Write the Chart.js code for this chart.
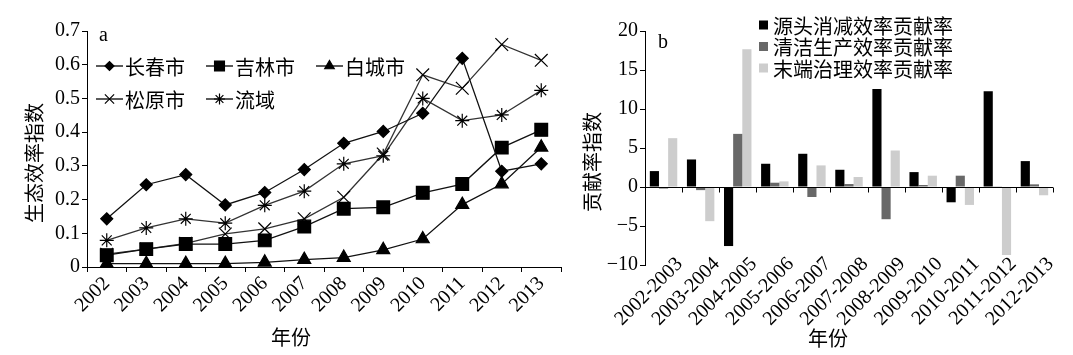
<!DOCTYPE html>
<html>
<head>
<meta charset="utf-8">
<script src="https://cdn.jsdelivr.net/npm/chart.js"></script>
<style>
  html, body { margin: 0; padding: 0; background: #fff; }
  body { width: 1073px; height: 355px; position: relative; overflow: hidden; }
  #wa { position: absolute; left: 0; top: 0; width: 580px; height: 355px; }
  #wb { position: absolute; left: 580px; top: 0; width: 493px; height: 355px; }
</style>
</head>
<body>
<div id="wa"><canvas id="ca" width="580" height="355"></canvas></div>
<div id="wb"><canvas id="cb" width="493" height="355"></canvas></div>
<script>
// ---------- data (chart a) ----------
const years = ['2002','2003','2004','2005','2006','2007','2008','2009','2010','2011','2012','2013'];
const changchun = [0.143, 0.244, 0.274, 0.184, 0.221, 0.289, 0.367, 0.402, 0.456, 0.619, 0.284, 0.306];
const jilin     = [0.035, 0.053, 0.068, 0.068, 0.079, 0.120, 0.173, 0.177, 0.220, 0.246, 0.354, 0.407];
const baicheng  = [0.010, 0.010, 0.010, 0.010, 0.014, 0.022, 0.028, 0.051, 0.083, 0.185, 0.246, 0.355];
const songyuan  = [0.038, 0.053, 0.070, 0.098, 0.113, 0.143, 0.207, 0.335, 0.570, 0.530, 0.660, 0.613];
const basin     = [0.079, 0.116, 0.143, 0.130, 0.183, 0.225, 0.306, 0.330, 0.500, 0.434, 0.451, 0.524];
const seriesNamesA = ['长春市', '吉林市', '白城市', '松原市', '流域'];

// ---------- data (chart b) ----------
const periods = ['2002-2003','2003-2004','2004-2005','2005-2006','2006-2007','2007-2008','2008-2009','2009-2010','2010-2011','2011-2012','2012-2013'];
const sourceReduction = [2.04, 3.53, -7.57, 2.98, 4.26, 2.21, 12.55, 1.91, -1.96, 12.26, 3.32];
const cleanProduction = [-0.2, -0.4, 6.81, 0.55, -1.28, 0.38, -4.13, 0.26, 1.45, 0.09, 0.34];
const endTreatment    = [6.26, -4.38, 17.66, 0.72, 2.77, 1.28, 4.68, 1.45, -2.30, -8.72, -1.06];
const seriesNamesB = ['源头消减效率贡献率', '清洁生产效率贡献率', '末端治理效率贡献率'];

const SERIF = "'Liberation Serif', 'Noto Sans CJK SC', serif";
const CJK = "'Noto Sans CJK SC', 'Liberation Serif', sans-serif";
Chart.defaults.font.family = SERIF;
Chart.defaults.color = '#000';

function drawMarker(ctx, style, r, x, y) {
  if (Chart.helpers && Chart.helpers.drawPoint) {
    ctx.save();
    ctx.fillStyle = '#000'; ctx.strokeStyle = '#000'; ctx.lineWidth = 1.2;
    Chart.helpers.drawPoint(ctx, {pointStyle: style, radius: r, rotation: 0, borderWidth: 1.2}, x, y);
    ctx.restore();
  }
}

// ---------- chart a ----------
const stylesA = ['rectRot', 'rect', 'triangle', 'crossRot', 'star'];
const radiiA = [6, 9, 7.5, 9, 7];
const legendRadiiA = [4.5, 7, 5.5, 6.5, 5.5];
const dataA = [changchun, jilin, baicheng, songyuan, basin];

const overlayA = {
  id: 'overlayA',
  afterDraw(chart) {
    const ctx = chart.ctx;
    ctx.save();
    ctx.fillStyle = '#000';
    ctx.textBaseline = 'middle';
    ctx.font = '20px ' + SERIF;
    ctx.textAlign = 'left';
    ctx.fillText('a', 99, 36);
    chart.data.datasets.forEach((ds, i) => {
      const col = i < 3 ? i : i - 3;
      const row = i < 3 ? 0 : 1;
      const x0 = 96 + col * 110;
      const y0 = row ? 99 : 66;
      ctx.strokeStyle = '#000';
      ctx.lineWidth = 1.3;
      ctx.beginPath(); ctx.moveTo(x0, y0); ctx.lineTo(x0 + 27, y0); ctx.stroke();
      drawMarker(ctx, ds.pointStyle, legendRadiiA[i], x0 + 13.5, y0);
      ctx.fillStyle = '#000';
      ctx.font = '20px ' + CJK;
      ctx.textAlign = 'left';
      ctx.fillText(ds.label, x0 + 29, y0 + 1);
    });
    ctx.font = '20px ' + CJK;
    ctx.textAlign = 'center';
    ctx.fillText('年份', 291, 337);
    ctx.translate(34, 163);
    ctx.rotate(-Math.PI / 2);
    ctx.fillText('生态效率指数', 0, 0);
    ctx.restore();
  }
};

new Chart(document.getElementById('ca'), {
  type: 'line',
  data: {
    labels: years,
    datasets: dataA.map((d, i) => ({
      label: seriesNamesA[i],
      data: d,
      borderColor: i >= 3 ? '#333' : '#111',
      borderWidth: 1.3,
      pointStyle: stylesA[i],
      pointRadius: radiiA[i],
      pointBackgroundColor: '#000',
      pointBorderColor: '#000',
      pointBorderWidth: 1.2,
      tension: 0,
      fill: false
    }))
  },
  options: {
    responsive: false,
    animation: false,
    devicePixelRatio: 1,
    layout: { padding: { left: 0, right: 19, top: 31, bottom: 0 } },
    plugins: { legend: { display: false }, tooltip: { enabled: false } },
    scales: {
      x: {
        type: 'category',
        offset: true,
        grid: { offset: true, drawOnChartArea: false, drawTicks: true, tickLength: 5, color: '#000' },
        border: { color: '#000', width: 1 },
        ticks: { autoSkip: false, minRotation: 45, maxRotation: 45, padding: 0, font: { size: 20, family: SERIF }, color: '#000' },
        afterFit(s) { s.height = 88; }
      },
      y: {
        min: 0, max: 0.7,
        grid: { drawOnChartArea: false, drawTicks: true, tickLength: 5, color: '#000' },
        border: { color: '#000', width: 1 },
        ticks: {
          stepSize: 0.1, padding: 2, font: { size: 20, family: SERIF }, color: '#000',
          callback: v => (Math.abs(v) < 1e-9 ? '0' : v.toFixed(1))
        },
        afterFit(s) { s.width = 87; }
      }
    }
  },
  plugins: [overlayA]
});

// ---------- chart b ----------
const colorsB = ['#000000', '#686868', '#cdcdcd'];
const dataB = [sourceReduction, cleanProduction, endTreatment];

const overlayB = {
  id: 'overlayB',
  afterDatasetsDraw(chart) {
    // zero line with tick marks between categories
    const ctx = chart.ctx;
    const xs = chart.scales.x, ys = chart.scales.y;
    const y0 = Math.round(ys.getPixelForValue(0)) + 0.5;
    const half = (xs.getPixelForValue(1) - xs.getPixelForValue(0)) / 2;
    ctx.save();
    ctx.strokeStyle = '#000';
    ctx.lineWidth = 1;
    ctx.beginPath();
    for (let i = 0; i <= periods.length; i++) {
      const px = Math.round(xs.getPixelForValue(0) - half + i * 2 * half) + 0.5;
      ctx.moveTo(px, y0);
      ctx.lineTo(px, y0 + 5);
    }
    ctx.moveTo(xs.left, y0);
    ctx.lineTo(xs.right, y0);
    ctx.stroke();
    ctx.restore();
  },
  afterDraw(chart) {
    const ctx = chart.ctx;
    const xs = chart.scales.x;
    ctx.save();
    // rotated category labels
    ctx.fillStyle = '#000';
    ctx.font = '20px ' + SERIF;
    ctx.textAlign = 'right';
    ctx.textBaseline = 'top';
    chart.data.labels.forEach((lab, i) => {
      const px = xs.getPixelForValue(i);
      ctx.save();
      ctx.translate(px + 9, 254);
      ctx.rotate(-Math.PI / 4);
      ctx.fillText(lab, 0, 0);
      ctx.restore();
    });
    ctx.textBaseline = 'middle';
    ctx.textAlign = 'left';
    ctx.fillText('b', 78, 43);
    chart.data.datasets.forEach((ds, i) => {
      const y0 = 25 + i * 21.5;
      ctx.fillStyle = ds.backgroundColor;
      ctx.fillRect(179, y0 - 4.5, 9, 9);
      ctx.fillStyle = '#000';
      ctx.font = '20px ' + CJK;
      ctx.fillText(ds.label, 193, y0 + 1);
    });
    ctx.font = '20px ' + CJK;
    ctx.textAlign = 'center';
    ctx.fillText('年份', 248, 338);
    ctx.translate(12, 162);
    ctx.rotate(-Math.PI / 2);
    ctx.fillText('贡献率指数', 0, 0);
    ctx.restore();
  }
};

new Chart(document.getElementById('cb'), {
  type: 'bar',
  data: {
    labels: periods,
    datasets: dataB.map((d, i) => ({
      label: seriesNamesB[i],
      data: d,
      backgroundColor: colorsB[i],
      borderWidth: 0,
      categoryPercentage: 0.74,
      barPercentage: 1.0
    }))
  },
  options: {
    responsive: false,
    animation: false,
    devicePixelRatio: 1,
    layout: { padding: { left: 0, right: 20, top: 31, bottom: 0 } },
    plugins: { legend: { display: false }, tooltip: { enabled: false } },
    scales: {
      x: {
        type: 'category',
        offset: true,
        grid: { display: false },
        border: { display: false },
        ticks: { display: false, autoSkip: false },
        afterFit(s) { s.height = 90; }
      },
      y: {
        min: -10, max: 20,
        grid: { drawOnChartArea: false, drawTicks: true, tickLength: 5, color: '#000' },
        border: { color: '#000', width: 1 },
        ticks: {
          stepSize: 5, padding: 2, font: { size: 20, family: SERIF }, color: '#000',
          callback: v => String(v).replace('-', '\u2212')
        },
        afterFit(s) { s.width = 65; }
      }
    }
  },
  plugins: [overlayB]
});
</script>
</body>
</html>
